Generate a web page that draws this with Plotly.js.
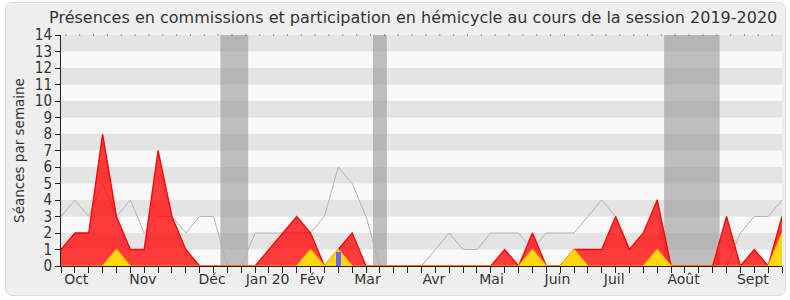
<!DOCTYPE html>
<html>
<head>
<meta charset="utf-8">
<script src="https://cdn.plot.ly/plotly-3.0.1.min.js"></script>
<style>
  html, body { margin: 0; padding: 0; background: #ffffff; }
  #panel { position: absolute; left: 5px; top: 2px; width: 779px; height: 292px;
           background: #efefef; border: 1px solid #dcdcdc; border-radius: 7px; }
  #chart { position: absolute; left: 0; top: 0; width: 790px; height: 300px; }
</style>
</head>
<body>
<div id="panel"></div>
<div id="chart"></div>
<script>
// weeks of the session (index 0 = first week of October 2019)
const weeks = [];
for (let i = 0; i <= 52; i++) weeks.push(i);

// Séances in hémicycle (gray line)
const hemicycle = [3,4,3,5,3,4,2,3,3,2,3,3,0,0,2,2,2,2,2,3,6,5,3,0,0,0,0,1,2,1,1,2,2,2,1,2,2,2,3,4,3,1,2,3,0,0,0,0,0,2,3,3,4];
// Présences en commission (red area)
const commission = [1,2,2,8,3,1,1,7,3,1,0,0,0,0,0,1,2,3,2,0,1,2,0,0,0,0,0,0,0,0,0,0,1,0,2,0,0,1,1,1,3,1,2,4,0,0,0,0,3,0,1,0,3];
// Interventions (yellow area)
const interventions = [0,0,0,0,1,0,0,0,0,0,0,0,0,0,0,0,0,0,1,0,1,0,0,0,0,0,0,0,0,0,0,0,0,0,1,0,0,1,0,0,0,0,0,1,0,0,0,0,0,0,0,0,2];
// Questions orales (blue bar)
const questionsWeeks = [20];
const questionsValues = [0.87];

// Vacances parlementaires (gray bands), in weeks
const vacStart = [11.5, 22.5, 43.5];
const vacEnd   = [13.5, 23.5, 47.5];

// Month labels
const monthPos = [1.1, 5.9, 10.9, 14.9, 18.1, 22.1, 26.9, 31.05, 35.8, 39.9, 44.9, 49.9];
const monthLabels = ['Oct','Nov','Déc','Jan 20','Fév','Mar','Avr','Mai','Juin','Juil','Août','Sept'];

const yMax = 14;
const xMax = 52;

const shapes = [];
for (let v = 1; v < yMax; v += 2) {
  shapes.push({type:'rect', xref:'paper', yref:'y', x0:0, x1:1, y0:v, y1:v+1,
               fillcolor:'#e4e4e4', line:{width:0}, layer:'below'});
}
for (let i = 0; i < vacStart.length; i++) {
  shapes.push({type:'rect', xref:'x', yref:'paper', x0:vacStart[i], x1:vacEnd[i], y0:0, y1:1,
               fillcolor:'rgba(150,150,150,0.6)', line:{width:0}, layer:'below'});
}
// dotted top border
shapes.push({type:'line', xref:'paper', yref:'paper', x0:0.006, x1:1, y0:1, y1:1,
             line:{color:'#444', width:1, dash:'1px,12.85px'}});

const data = [
  {x: weeks, y: hemicycle, type:'scatter', mode:'lines', name:'Séances hémicycle',
   line:{color:'#b4b4b4', width:1}, hoverinfo:'skip'},
  {x: weeks, y: commission, type:'scatter', mode:'lines', fill:'tozeroy', name:'Présences commission',
   line:{color:'#ff0000', width:1.3}, fillcolor:'rgba(255,0,0,0.76)', hoverinfo:'skip'},
  {x: weeks, y: interventions, type:'scatter', mode:'lines', fill:'tozeroy', name:'Interventions',
   line:{color:'rgba(255,210,0,0.85)', width:1.2}, fillcolor:'#ffd70a', hoverinfo:'skip'},
  {x: questionsWeeks, y: questionsValues, type:'bar', width:0.34, name:'Questions',
   xaxis:'x2', yaxis:'y2',
   marker:{color:'#6a6af0', line:{width:0}}, hoverinfo:'skip'}
];

const layout = {
  width: 790, height: 300,
  paper_bgcolor: 'rgba(0,0,0,0)',
  plot_bgcolor: '#f9f9f9',
  margin: {l:61, r:8, t:35, b:34},
  showlegend: false,
  title: {text: 'Présences en commissions et participation en hémicycle au cours de la session 2019-2020',
          font: {family: 'DejaVu Sans', size: 16, color: '#333'}, x: 0.523, xanchor:'center', y: 0.943, yanchor:'middle'},
  font: {family: 'DejaVu Sans', color: '#333'},
  xaxis: {
    range: [0, xMax], fixedrange: true,
    tickmode: 'array', tickvals: monthPos, ticktext: monthLabels,
    ticks: '', ticklen: 0,
    tickfont: {size: 14, color:'#333'},
    showgrid: false, zeroline: false,
    showline: true, linecolor: '#222', linewidth: 1,
    minor: {tickmode: 'linear', tick0: 0, dtick: 1, ticks: 'outside', ticklen: 6, tickcolor: '#222', tickwidth: 1, showgrid: false}
  },
  yaxis: {
    range: [0, yMax], fixedrange: true,
    tickmode: 'linear', tick0: 0, dtick: 1,
    ticks: 'outside', ticklen: 5, tickcolor: '#222',
    tickfont: {family: 'DejaVu Sans Condensed', size: 15, color:'#333'},
    showgrid: false, zeroline: false,
    showline: true, linecolor: '#222', linewidth: 1,
    title: {text: 'Séances par semaine', font: {size: 13.5, color:'#333'}, standoff: 7}
  },
  xaxis2: {overlaying: 'x', range: [0, xMax], visible: false, fixedrange: true},
  yaxis2: {overlaying: 'y', range: [0, yMax], visible: false, fixedrange: true},
  shapes: shapes,
  bargap: 0
};

Plotly.newPlot('chart', data, layout, {displayModeBar: false, staticPlot: true});
</script>
</body>
</html>
